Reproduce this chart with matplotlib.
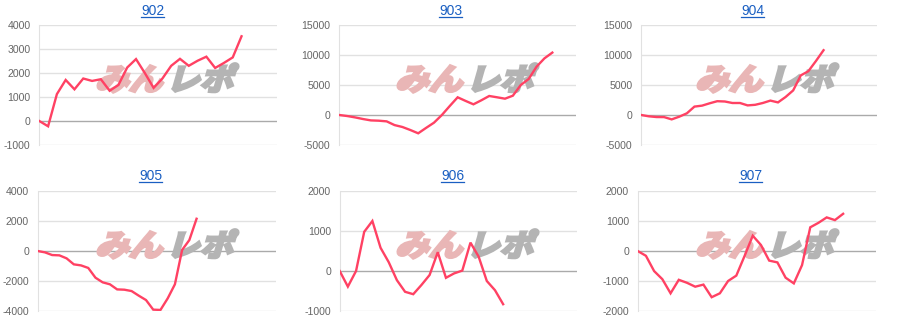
import numpy as np
import matplotlib.pyplot as plt
from matplotlib.font_manager import FontProperties
from matplotlib.textpath import TextPath
from matplotlib.patches import PathPatch
from matplotlib.lines import Line2D
from matplotlib.transforms import Affine2D

plt.rcParams['font.family'] = ['Liberation Sans', 'DejaVu Sans']
plt.rcParams['axes.unicode_minus'] = False

#%%
# data (cumulative value per day)
titles = ['902', '903', '904', '905', '906', '907']
slots = [28, 31, 32, 34, 30, 30]   # number of x positions per panel

vals_902 = [0, -220, 1120, 1710, 1320, 1770, 1670, 1740, 1260, 1500, 2230, 2580,
            2000, 1380, 1770, 2300, 2590, 2300, 2510, 2680, 2210, 2420, 2650, 3530]
vals_903 = [0, -170, -400, -670, -900, -950, -1060, -1680, -2000, -2500, -3050,
            -2150, -1280, 0, 1500, 2950, 2350, 1780, 2450, 3170, 2950, 2720, 3220,
            5000, 6000, 8050, 9440, 10400]
vals_904 = [0, -220, -340, -350, -730, -280, 280, 1400, 1560, 1950, 2300, 2250,
            2000, 2000, 1600, 1700, 2000, 2400, 2100, 3000, 4100, 6600, 7300, 9000,
            10800]
vals_905 = [0, -90, -270, -290, -490, -890, -960, -1130, -1780, -2090, -2220,
            -2560, -2580, -2670, -2980, -3270, -3910, -3930, -3160, -2220, 70, 730,
            2150]
vals_906 = [0, -390, 0, 980, 1250, 580, 220, -230, -520, -580, -350, -100, 470,
            -170, -60, 10, 710, 360, -250, -480, -830]
vals_907 = [0, -160, -670, -940, -1410, -960, -1060, -1190, -1120, -1540, -1410,
            -1000, -820, -170, 510, 200, -320, -380, -890, -1080, -470, 790, 940,
            1120, 1030, 1240]
series = [vals_902, vals_903, vals_904, vals_905, vals_906, vals_907]

ylims = [(-1000, 4000), (-5000, 15000), (-5000, 15000),
         (-4000, 4000), (-1000, 2000), (-2000, 2000)]
ysteps = [1000, 5000, 5000, 2000, 1000, 1000]

#%%
W, H = 900, 332
fig = plt.figure(figsize=(W / 100, H / 100), dpi=100)

# plot areas in pixels: left, top, right, bottom
boxes = [(39.3, 25, 276.7, 145), (339.3, 25, 576, 145), (641.3, 25, 876.7, 145),
         (37.7, 191, 276, 311), (339.7, 191, 576.7, 311), (637.7, 191, 876, 311)]
title_x = [152.8, 450.8, 752.8, 150.8, 452.8, 750.8]
title_base = [15, 180.5]

line_col = '#ff4163'
grid_col = '#e1e1e1'
link_col = '#1a5fc2'
jp = FontProperties(family='Noto Sans CJK JP', weight='bold')

fig.canvas.draw()
renderer = fig.canvas.get_renderer()

for i, (name, vals) in enumerate(zip(titles, series)):
    l, t, r, b = boxes[i]
    ax = fig.add_axes([l / W, 1 - b / H, (r - l) / W, (b - t) / H])
    ax.set_facecolor('none')
    lo, hi = ylims[i]
    ax.set_ylim(lo, hi)
    ax.set_xlim(0, slots[i] - 1)
    ticks = np.arange(lo, hi + 1, ysteps[i])
    ax.set_yticks(ticks)
    ax.set_xticks([])
    for v in ticks:
        ax.axhline(v, color='#aaaaaa' if v == 0 else grid_col, lw=1, zorder=1)
    for s in ['top', 'right', 'bottom']:
        ax.spines[s].set_visible(False)
    ax.spines['left'].set_color(grid_col)
    ax.tick_params(axis='y', length=0, pad=6.3, labelsize=7.6, labelcolor='#666666')

    ax.plot(np.arange(len(vals)), vals, color=line_col, lw=1.7, zorder=5,
            solid_joinstyle='miter')

    # watermark logo
    row, col = divmod(i, 3)
    ox, oy = col * 300, row * 166
    for txt, x0, c in [('みん', 95, '#e9b6b6'), ('レポ', 166, '#b4b4b4')]:
        tp = TextPath((0, 0), txt, size=32, prop=jp)
        tr = (Affine2D().scale(1.05, 0.95).skew_deg(16, 0).scale(1 / W, 1 / H)
              .translate((ox + x0) / W, 1 - (oy + 90) / H) + fig.transFigure)
        ax.add_artist(PathPatch(tp, transform=tr, facecolor=c, edgecolor=c,
                                lw=2.2, zorder=2, clip_on=False))

    # title with underline
    tx, ty = title_x[i], title_base[row]
    tt = fig.text(tx / W, 1 - ty / H, name, ha='center', va='baseline',
                  fontsize=10, color=link_col)
    bb = tt.get_window_extent(renderer)
    fig.add_artist(Line2D([bb.x0 / W, bb.x1 / W], [1 - (ty + 1.8) / H] * 2,
                          color=link_col, lw=0.9))

plt.savefig('out.png', dpi=100)
